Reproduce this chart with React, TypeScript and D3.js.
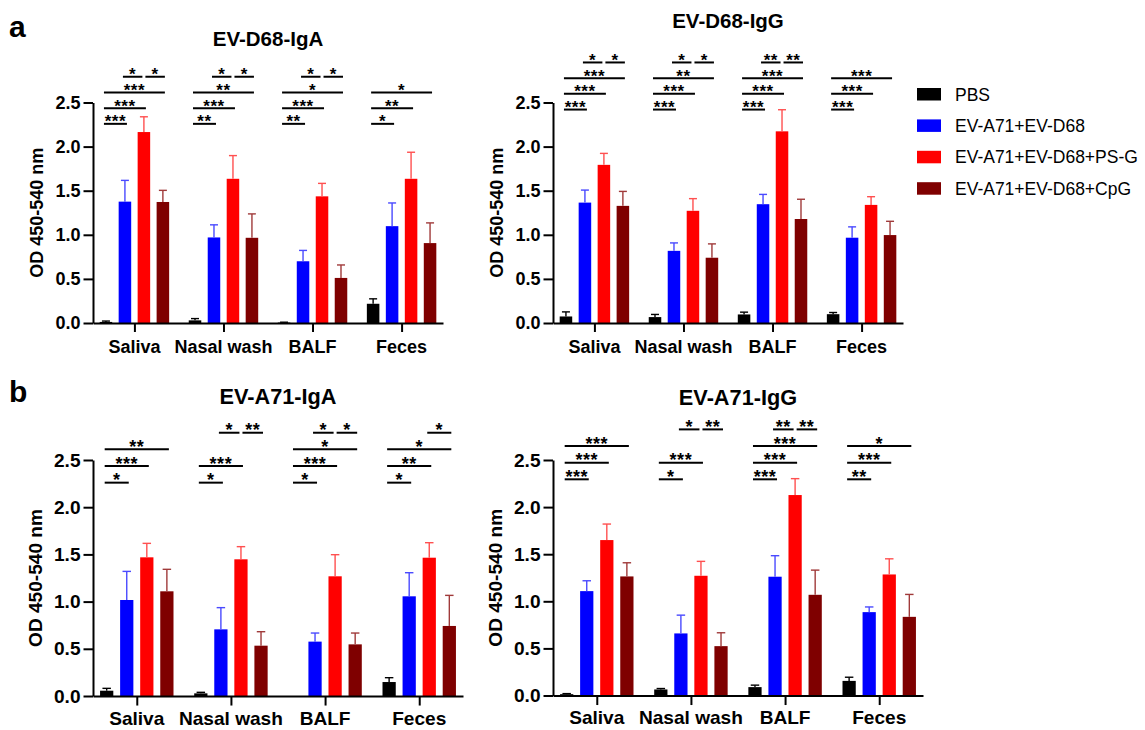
import * as d3 from "d3";
import { useEffect, useRef } from "react";

const categories = ["Saliva", "Nasal wash", "BALF", "Feces"];
const groups = ["PBS", "EV-A71+EV-D68", "EV-A71+EV-D68+PS-G", "EV-A71+EV-D68+CpG"];
const colors = ["#000000", "#0000ff", "#ff0000", "#7f0000"];
const errColors = ["#000000", "#4a4aff", "#ff5050", "#a03a3a"];
const yTicks = [0, 0.5, 1, 1.5, 2, 2.5];

// mean per category: [PBS, A71+D68, +PS-G, +CpG]
const d68IgaMean = [
    [0.012, 1.376, 2.165, 1.372],
    [0.03, 0.97, 1.635, 0.966],
    [0.005, 0.7, 1.436, 0.511],
    [0.218, 1.098, 1.635, 0.906]
];
const d68IgaSd = [
    [0.01, 0.241, 0.173, 0.132],
    [0.02, 0.143, 0.263, 0.271],
    [0.004, 0.123, 0.147, 0.147],
    [0.056, 0.263, 0.301, 0.229]
];
const d68IggMean = [
    [0.074, 1.365, 1.793, 1.328],
    [0.067, 0.818, 1.272, 0.74],
    [0.097, 1.347, 2.173, 1.179],
    [0.1, 0.967, 1.339, 0.997]
];
const d68IggSd = [
    [0.052, 0.142, 0.13, 0.164],
    [0.03, 0.09, 0.138, 0.157],
    [0.026, 0.111, 0.245, 0.224],
    [0.019, 0.123, 0.093, 0.156]
];
const a71IgaMean = [
    [0.056, 1.017, 1.469, 1.109],
    [0.028, 0.706, 1.448, 0.533],
    [0, 0.576, 1.268, 0.547],
    [0.148, 1.056, 1.465, 0.742]
];
const a71IgaSd = [
    [0.025, 0.303, 0.148, 0.233],
    [0.011, 0.23, 0.134, 0.148],
    [0, 0.091, 0.229, 0.12],
    [0.046, 0.25, 0.159, 0.324]
];
const a71IggMean = [
    [0.014, 1.108, 1.65, 1.264],
    [0.064, 0.659, 1.271, 0.524],
    [0.089, 1.261, 2.128, 1.069],
    [0.155, 0.885, 1.285, 0.835]
];
const a71IggSd = [
    [0.006, 0.11, 0.17, 0.145],
    [0.01, 0.194, 0.153, 0.142],
    [0.021, 0.223, 0.174, 0.262],
    [0.039, 0.055, 0.166, 0.238]
];

// significance: [from, to, label, row]
const d68IgaSig = [
    [[0, 1, "***", 1], [0, 2, "***", 2], [0, 3, "***", 3], [1, 2, "*", 4], [2, 3, "*", 4]],
    [[0, 1, "**", 1], [0, 2, "***", 2], [0, 3, "**", 3], [1, 2, "*", 4], [2, 3, "*", 4]],
    [[0, 1, "**", 1], [0, 2, "***", 2], [0, 3, "*", 3], [1, 2, "*", 4], [2, 3, "*", 4]],
    [[0, 1, "*", 1], [0, 2, "**", 2], [0, 3, "*", 3]]
];
const d68IggSig = [
    [[0, 1, "***", 1], [0, 2, "***", 2], [0, 3, "***", 3], [1, 2, "*", 4], [2, 3, "*", 4]],
    [[0, 1, "***", 1], [0, 2, "***", 2], [0, 3, "**", 3], [1, 2, "*", 4], [2, 3, "*", 4]],
    [[0, 1, "***", 1], [0, 2, "***", 2], [0, 3, "***", 3], [1, 2, "**", 4], [2, 3, "**", 4]],
    [[0, 1, "***", 1], [0, 2, "***", 2], [0, 3, "***", 3]]
];
const a71IgaSig = [
    [[0, 1, "*", 1], [0, 2, "***", 2], [0, 3, "**", 3]],
    [[0, 1, "*", 1], [0, 2, "***", 2], [1, 2, "*", 4], [2, 3, "**", 4]],
    [[0, 1, "*", 1], [0, 2, "***", 2], [0, 3, "*", 3], [1, 2, "*", 4], [2, 3, "*", 4]],
    [[0, 1, "*", 1], [0, 2, "**", 2], [0, 3, "*", 3], [2, 3, "*", 4]]
];
const a71IggSig = [
    [[0, 1, "***", 1], [0, 2, "***", 2], [0, 3, "***", 3]],
    [[0, 1, "*", 1], [0, 2, "***", 2], [1, 2, "*", 4], [2, 3, "**", 4]],
    [[0, 1, "***", 1], [0, 2, "***", 2], [0, 3, "***", 3], [1, 2, "**", 4], [2, 3, "**", 4]],
    [[0, 1, "**", 1], [0, 2, "***", 2], [0, 3, "*", 3]]
];

const FONT = "'Liberation Sans', Arial, sans-serif";

const panels = [
    { title: "EV-D68-IgA", mean: d68IgaMean, sd: d68IgaSd, sig: d68IgaSig, sigBase: 2.258,
      x0: 93, w: 350, y0: 323, yTop: 102.5, s: 1, titleY: 46, labelX: 37 },
    { title: "EV-D68-IgG", mean: d68IggMean, sd: d68IggSd, sig: d68IggSig, sigBase: 2.42,
      x0: 553, w: 350, y0: 323, yTop: 102.5, s: 1, titleY: 28, labelX: 497 },
    { title: "EV-A71-IgA", mean: a71IgaMean, sd: a71IgaSd, sig: a71IgaSig, sigBase: 2.26,
      x0: 93, w: 370, y0: 696, yTop: 460, s: 1.06, titleY: 404, labelX: 35 },
    { title: "EV-A71-IgG", mean: a71IggMean, sd: a71IggSd, sig: a71IggSig, sigBase: 2.295,
      x0: 553, w: 370, y0: 695.5, yTop: 460, s: 1.06, titleY: 405, labelX: 495 }
];

const App = () => {
    const ref = useRef(null);
    const width = 1145;
    const height = 730;

    useEffect(() => {
        document.body.style.margin = "0";
        const svg = d3.select(ref.current);
        svg.selectAll("*").remove();
        svg.attr("width", width).attr("height", height);

        svg.append("rect").attr("width", width).attr("height", height).attr("fill", "#fff");

        // буквы панелей
        svg.append("text").attr("x", 9).attr("y", 37).text("a")
            .style("font", `bold 30px ${FONT}`);
        svg.append("text").attr("x", 9).attr("y", 402).text("b")
            .style("font", `bold 30px ${FONT}`);

        panels.forEach(p => {
            const s = p.s;
            const g = svg.append("g");

            const y = d3.scaleLinear().domain([0, 2.5]).range([p.y0, p.yTop]);
            const x = d3.scalePoint()
                .domain(categories)
                .range([p.x0, p.x0 + p.w])
                .padding(0.465);
            const span = x.step() * 0.78;
            const inner = d3.scaleBand()
                .domain(d3.range(groups.length))
                .range([-span / 2, span / 2])
                .paddingInner(0.34);
            const bw = inner.bandwidth();

            g.append("text")
                .attr("x", p.x0 + p.w / 2)
                .attr("y", p.titleY)
                .attr("text-anchor", "middle")
                .style("font", `bold ${20.5 * s}px ${FONT}`)
                .text(p.title);

            g.append("text")
                .attr("transform", `translate(${p.labelX}, ${(p.y0 + p.yTop) / 2}) rotate(-90)`)
                .attr("text-anchor", "middle")
                .attr("dy", "0.35em")
                .style("font", `bold ${18 * s}px ${FONT}`)
                .text("OD 450-540 nm");

            categories.forEach((c, ci) => {
                const cx = x(c);
                groups.forEach((_, gi) => {
                    const m = p.mean[ci][gi];
                    const e = p.sd[ci][gi];
                    const bx = cx + inner(gi);
                    if (m > 0) {
                        g.append("rect")
                            .attr("x", bx)
                            .attr("y", y(m))
                            .attr("width", bw)
                            .attr("height", y(0) - y(m))
                            .attr("fill", colors[gi]);
                    }
                    if (e > 0) {
                        const mx = bx + bw / 2;
                        g.append("line")
                            .attr("x1", mx).attr("x2", mx)
                            .attr("y1", y(m)).attr("y2", y(m + e))
                            .attr("stroke", errColors[gi]).attr("stroke-width", 1.4);
                        g.append("line")
                            .attr("x1", mx - 4 * s).attr("x2", mx + 4 * s)
                            .attr("y1", y(m + e)).attr("y2", y(m + e))
                            .attr("stroke", errColors[gi]).attr("stroke-width", 1.4);
                    }
                });

                // линии значимости
                const sigs = p.sig[ci];
                sigs.forEach(([a, b, lab, row]) => {
                    const ca = cx + inner(a) + bw / 2;
                    const cb = cx + inner(b) + bw / 2;
                    let x1 = ca - 2;
                    let x2 = cb + 2;
                    if (sigs.some(o => o[3] === row && o[0] === b)) x2 = cb - 1.5;
                    if (sigs.some(o => o[3] === row && o[1] === a)) x1 = ca + 1.5;
                    const ly = y(p.sigBase) - (row - 1) * 15.7 * s;
                    g.append("line")
                        .attr("x1", x1).attr("x2", x2)
                        .attr("y1", ly).attr("y2", ly)
                        .attr("stroke", "#000").attr("stroke-width", 2);
                    g.append("text")
                        .attr("x", (x1 + x2) / 2)
                        .attr("y", ly + 3.5 * s)
                        .attr("text-anchor", "middle")
                        .style("font", `bold ${17 * s}px ${FONT}`)
                        .style("letter-spacing", "0.5px")
                        .text(lab);
                });
            });

            const yAxis = d3.axisLeft(y)
                .tickValues(yTicks)
                .tickFormat(d3.format(".1f"))
                .tickSize(9.5)
                .tickSizeOuter(0)
                .tickPadding(3);
            const ya = g.append("g")
                .attr("transform", `translate(${p.x0},0)`)
                .call(yAxis);
            ya.select(".domain").attr("stroke-width", 2);
            ya.selectAll(".tick line").attr("stroke-width", 2);
            ya.selectAll("text").style("font", `bold ${18 * s}px ${FONT}`).attr("fill", "#000");

            const xAxis = d3.axisBottom(x).tickSize(9 * s).tickSizeOuter(0).tickFormat(() => "");
            const xa = g.append("g")
                .attr("transform", `translate(0,${p.y0})`)
                .call(xAxis);
            xa.select(".domain").attr("stroke-width", 2);
            xa.selectAll(".tick line").attr("stroke-width", 2);

            categories.forEach(c => {
                g.append("text")
                    .attr("x", x(c))
                    .attr("y", p.y0 + 30 * s - (s > 1 ? 3 : 0))
                    .attr("text-anchor", "middle")
                    .style("font", `bold ${18 * s}px ${FONT}`)
                    .text(c);
            });
        });

        // легенда
        const lg = svg.append("g").attr("transform", "translate(917, 88)");
        groups.forEach((name, i) => {
            lg.append("rect")
                .attr("x", 0)
                .attr("y", i * 31.4)
                .attr("width", 24)
                .attr("height", 12.5)
                .attr("fill", colors[i]);
            lg.append("text")
                .attr("x", 38)
                .attr("y", i * 31.4 + 12.6)
                .style("font", `17.5px ${FONT}`)
                .text(name);
        });
    }, []);

    return <svg ref={ref} style={{ display: "block" }}></svg>;
};

export default App;
